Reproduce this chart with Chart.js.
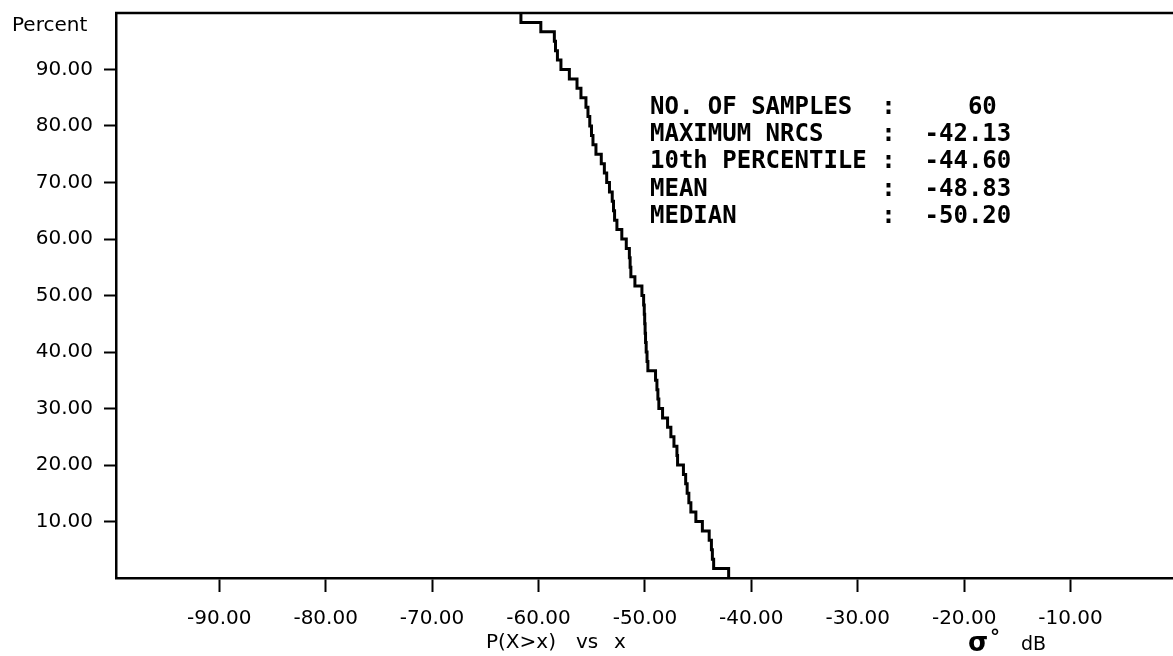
<!DOCTYPE html>
<html>
<head>
<meta charset="utf-8">
<script src="https://cdn.jsdelivr.net/npm/chart.js@4.4.1/dist/chart.umd.min.js"></script>
<style>
  html, body { margin: 0; padding: 0; background: #fff; overflow: hidden; }
  #wrap { position: relative; width: 1177px; height: 656px; }
</style>
</head>
<body>
<div id="wrap"><canvas id="c" width="1177" height="656"></canvas></div>
<script>
// NRCS samples in dB, sorted ascending (60 samples)
const samples = [
  -61.65, -59.78, -58.51, -58.40, -58.22, -57.89, -57.10, -56.38, -56.01, -55.54,
  -55.35, -55.18, -55.02, -54.88, -54.60, -54.10, -53.81, -53.59, -53.33, -53.07,
  -52.95, -52.85, -52.63, -52.17, -51.75, -51.46, -51.39, -51.32, -50.94, -50.28,
  -50.12, -50.06, -50.02, -49.98, -49.94, -49.88, -49.80, -49.72, -49.00, -48.87,
  -48.78, -48.69, -48.34, -47.87, -47.56, -47.27, -46.99, -46.93, -46.38, -46.17,
  -46.03, -45.87, -45.68, -45.21, -44.60, -43.96, -43.75, -43.66, -43.54, -42.13
];

// Axis tick values
const xTickValues = [-90, -80, -70, -60, -50, -40, -30, -20, -10];
const yTickValues = [10, 20, 30, 40, 50, 60, 70, 80, 90];

// Summary statistics block
const statLabels = ['NO. OF SAMPLES', 'MAXIMUM NRCS', '10th PERCENTILE', 'MEAN', 'MEDIAN'];
const statValues = ['60', '-42.13', '-44.60', '-48.83', '-50.20'];

// Axis captions
const yCaption = 'Percent';
const xCaptionParts = ['P(X>x)', 'vs', 'x'];
const unitSymbol = 'σ';
const unitMark = '°';
const unitText = 'dB';

// Exceedance curve P(X > x): starts at 100 % and drops 1/N at every sample
const n = samples.length;
const exceedance = [{ x: samples[0], y: 100 }];
samples.forEach((s, i) => exceedance.push({ x: s, y: 100 * (n - 1 - i) / n }));

const framePlugin = {
  id: 'frameAndText',
  afterDraw(chart) {
    const ctx = chart.ctx;
    const a = chart.chartArea;
    ctx.save();
    // top frame line
    ctx.strokeStyle = '#000';
    ctx.lineWidth = 2.5;
    ctx.beginPath();
    ctx.moveTo(a.left - 1, a.top);
    ctx.lineTo(a.right, a.top);
    ctx.stroke();

    ctx.fillStyle = '#000';
    ctx.textBaseline = 'alphabetic';
    ctx.textAlign = 'left';

    // y caption
    ctx.font = '20px "DejaVu Sans"';
    ctx.fillText(yCaption, 12, 31);

    // statistics block (monospaced columns)
    ctx.font = 'bold 24px "DejaVu Sans Mono"';
    statLabels.forEach((lab, i) => {
      const v = statValues[i];
      const field = v.indexOf('.') >= 0 ? v.padStart(8) : v.padStart(7);
      const line = lab.padEnd(16) + ':' + field;
      ctx.fillText(line, 650, 114 + i * 27.2);
    });

    // bottom captions
    ctx.font = '20px "DejaVu Sans"';
    ctx.fillText(xCaptionParts[0], 486, 648);
    ctx.fillText(xCaptionParts[1], 576, 648);
    ctx.fillText(xCaptionParts[2], 614, 648);
    ctx.font = 'bold 26px "DejaVu Sans"';
    ctx.fillText(unitSymbol, 968, 651);
    ctx.font = 'bold 20px "DejaVu Sans"';
    ctx.fillText(unitMark, 990, 643);
    ctx.font = '19px "DejaVu Sans"';
    ctx.fillText(unitText, 1021, 650);
    ctx.restore();
  }
};

new Chart(document.getElementById('c'), {
  type: 'line',
  data: {
    datasets: [{
      data: exceedance,
      borderColor: '#000',
      borderWidth: 3,
      pointRadius: 0,
      stepped: true,
      fill: false
    }]
  },
  options: {
    responsive: false,
    animation: false,
    devicePixelRatio: 1,
    layout: { padding: { top: 13, right: 0, left: 0, bottom: 0 } },
    plugins: { legend: { display: false }, tooltip: { enabled: false } },
    scales: {
      x: {
        type: 'linear',
        position: 'bottom',
        min: -99.7,
        max: 0,
        afterBuildTicks: (scale) => { scale.ticks = xTickValues.map(v => ({ value: v })); },
        afterFit: (scale) => {
          scale.height = 78;
          scale.paddingLeft = 0; scale.paddingRight = 0;
        },
        border: { display: true, color: '#000', width: 2.5 },
        grid: { drawOnChartArea: false, drawTicks: true, tickLength: 14, tickColor: '#000', tickWidth: 2 },
        ticks: {
          color: '#000',
          padding: 15,
          maxRotation: 0,
          font: { family: 'DejaVu Sans', size: 20 },
          callback: (v) => Number(v).toFixed(2)
        }
      },
      y: {
        type: 'linear',
        min: 0,
        max: 100,
        afterBuildTicks: (scale) => { scale.ticks = yTickValues.map(v => ({ value: v })); },
        afterFit: (scale) => {
          scale.width = 116;
          scale.paddingTop = 0; scale.paddingBottom = 0;
        },
        border: { display: true, color: '#000', width: 2.5 },
        grid: { drawOnChartArea: false, drawTicks: true, tickLength: 12, tickColor: '#000', tickWidth: 2 },
        ticks: {
          color: '#000',
          padding: 11,
          font: { family: 'DejaVu Sans', size: 20 },
          callback: (v) => Number(v).toFixed(2)
        }
      }
    }
  },
  plugins: [framePlugin]
});
</script>
</body>
</html>
